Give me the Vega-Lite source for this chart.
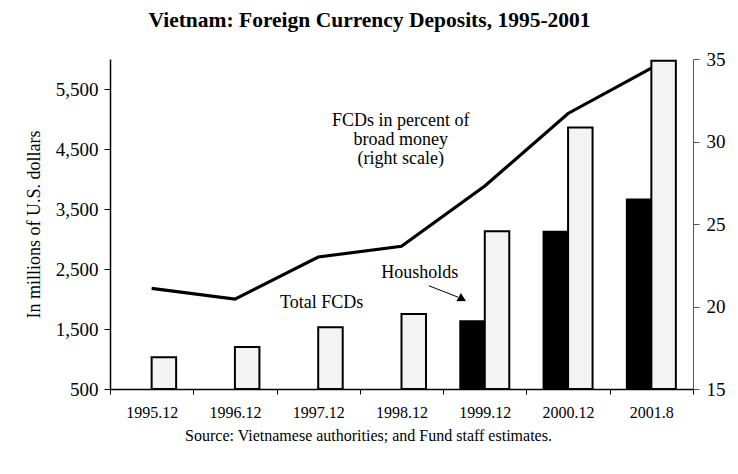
{
  "$schema": "https://vega.github.io/schema/vega-lite/v6.json",
  "autosize": {"type": "none"},
  "width": 583,
  "height": 330,
  "padding": {"left": 110, "top": 59, "right": 45, "bottom": 85},
  "background": "white",
  "config": {
    "view": {"stroke": null},
    "font": "Liberation Serif",
    "axis": {"labelFont": "Liberation Serif", "titleFont": "Liberation Serif", "labelColor": "black", "titleColor": "black", "domainColor": "black", "tickColor": "black", "grid": false, "titleFontWeight": "normal"}
  },
  "title": {
    "text": "Vietnam: Foreign Currency Deposits, 1995-2001",
    "font": "Liberation Serif",
    "fontSize": 21.5,
    "fontWeight": "bold",
    "anchor": "middle",
    "dx": -32,
    "offset": 19,
    "color": "black"
  },
  "datasets": {
    "bars": [
      {"period": "1995.12", "series": "Total FCDs", "value": 1030},
      {"period": "1996.12", "series": "Total FCDs", "value": 1200},
      {"period": "1997.12", "series": "Total FCDs", "value": 1530},
      {"period": "1998.12", "series": "Total FCDs", "value": 1750},
      {"period": "1999.12", "series": "Households", "value": 1630},
      {"period": "1999.12", "series": "Total FCDs", "value": 3130},
      {"period": "2000.12", "series": "Households", "value": 3120},
      {"period": "2000.12", "series": "Total FCDs", "value": 4860},
      {"period": "2001.8", "series": "Households", "value": 3660},
      {"period": "2001.8", "series": "Total FCDs", "value": 5970}
    ],
    "pct": [
      {"period": "1995.12", "pct": 21.1},
      {"period": "1996.12", "pct": 20.45},
      {"period": "1997.12", "pct": 23.0},
      {"period": "1998.12", "pct": 23.65},
      {"period": "1999.12", "pct": 27.3},
      {"period": "2000.12", "pct": 31.7},
      {"period": "2001.8", "pct": 34.45}
    ],
    "notes": [
      {"label": "FCDs in percent of", "xi": 3.49, "v": 4967},
      {"label": "broad money", "xi": 3.49, "v": 4650},
      {"label": "(right scale)", "xi": 3.49, "v": 4333},
      {"label": "Total FCDs", "xi": 2.54, "v": 1933},
      {"label": "Housholds", "xi": 3.72, "v": 2433}
    ],
    "arrow": [
      {"xi": 3.83, "v": 2220},
      {"xi": 4.18, "v": 2030}
    ],
    "head": [
      {"xi": 4.23, "v": 2000}
    ]
  },
  "layer": [
    {
      "data": {"name": "bars"},
      "mark": {"type": "bar", "stroke": "black", "strokeWidth": 2},
      "encoding": {
        "x": {
          "field": "period", "type": "nominal",
          "scale": {"domain": ["1995.12", "1996.12", "1997.12", "1998.12", "1999.12", "2000.12", "2001.8"], "paddingInner": 0, "paddingOuter": 0},
          "axis": {"title": "Source: Vietnamese authorities; and Fund staff estimates.", "titleFontSize": 16, "titleX": 258, "titlePadding": 7, "labelAngle": 0, "labelFontSize": 16, "labelPadding": 10, "tickBand": "extent", "tickSize": 5, "domainWidth": 1.5}
        },
        "xOffset": {
          "field": "series", "type": "nominal",
          "scale": {"domain": ["Households", "Total FCDs"], "paddingInner": 0, "paddingOuter": 0.7}
        },
        "y": {
          "field": "value", "type": "quantitative",
          "scale": {"domain": [500, 6000], "nice": false, "zero": false},
          "axis": {"title": "In millions of U.S. dollars", "titleFontSize": 18, "titlePadding": 12, "values": [500, 1500, 2500, 3500, 4500, 5500], "format": ",d", "labelFontSize": 19, "labelPadding": 6, "tickSize": 6, "domainWidth": 1.5}
        },
        "y2": {"datum": 500},
        "fill": {
          "field": "series", "type": "nominal",
          "scale": {"domain": ["Households", "Total FCDs"], "range": ["black", "#f3f3f3"]},
          "legend": null
        }
      }
    },
    {
      "data": {"name": "pct"},
      "mark": {"type": "line", "color": "black", "strokeWidth": 3.2},
      "encoding": {
        "x": {
          "field": "period", "type": "nominal",
          "scale": {"domain": ["1995.12", "1996.12", "1997.12", "1998.12", "1999.12", "2000.12", "2001.8"], "paddingInner": 0, "paddingOuter": 0},
          "axis": null
        },
        "y": {
          "field": "pct", "type": "quantitative",
          "scale": {"domain": [15, 35], "nice": false, "zero": false},
          "axis": {"orient": "right", "title": null, "values": [15, 20, 25, 30, 35], "labelFontSize": 19, "labelPadding": 7, "tickSize": 6, "domainColor": "#555", "tickColor": "#555"}
        }
      }
    },
    {
      "data": {"name": "notes"},
      "mark": {"type": "text", "fontSize": 18, "align": "center", "baseline": "middle", "color": "black"},
      "encoding": {
        "x": {"field": "xi", "type": "quantitative", "scale": {"domain": [0, 7], "nice": false, "zero": false}, "axis": null},
        "y": {"field": "v", "type": "quantitative", "scale": {"domain": [500, 6000], "nice": false, "zero": false}, "axis": null},
        "text": {"field": "label"}
      }
    },
    {
      "data": {"name": "arrow"},
      "mark": {"type": "line", "color": "black", "strokeWidth": 1},
      "encoding": {
        "x": {"field": "xi", "type": "quantitative", "scale": {"domain": [0, 7], "nice": false, "zero": false}, "axis": null},
        "y": {"field": "v", "type": "quantitative", "scale": {"domain": [500, 6000], "nice": false, "zero": false}, "axis": null}
      }
    },
    {
      "data": {"name": "head"},
      "mark": {"type": "point", "shape": "triangle-right", "filled": true, "color": "black", "size": 90, "angle": 28, "opacity": 1},
      "encoding": {
        "x": {"field": "xi", "type": "quantitative", "scale": {"domain": [0, 7], "nice": false, "zero": false}, "axis": null},
        "y": {"field": "v", "type": "quantitative", "scale": {"domain": [500, 6000], "nice": false, "zero": false}, "axis": null}
      }
    }
  ],
  "resolve": {"scale": {"x": "independent", "y": "independent", "fill": "independent"}}
}
